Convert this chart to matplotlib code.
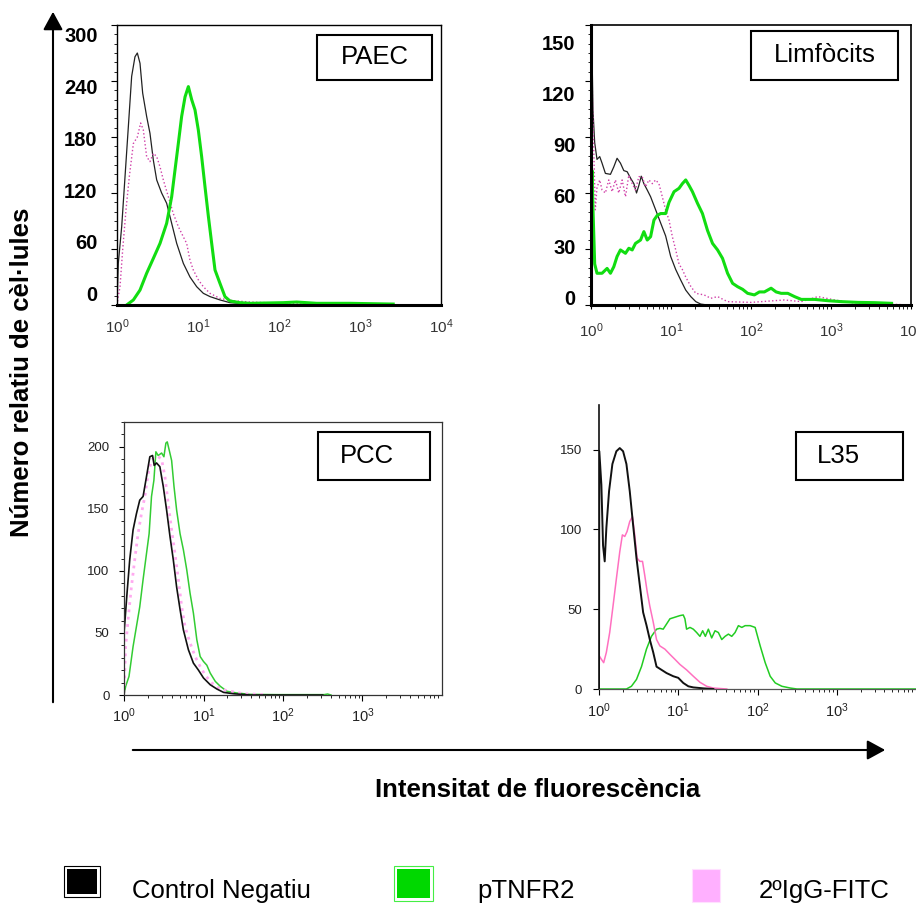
import numpy as np
import matplotlib.pyplot as plt
from matplotlib.patches import Rectangle, FancyArrowPatch
from matplotlib.ticker import MultipleLocator, LogLocator, NullLocator, NullFormatter

plt.rcParams['font.family'] = ['Liberation Sans', 'DejaVu Sans']
plt.rcParams['mathtext.default'] = 'regular'

# ---- histogram data: log10(fluorescence) and cell counts ----
# PAEC
PAEC_CTRL_LOG = [0.0, 0.016, 0.058, 0.099, 0.14, 0.181, 0.222, 0.251, 0.284, 0.317, 0.366, 0.407, 0.449,
                 0.49, 0.551, 0.613, 0.675, 0.737, 0.819, 0.901, 0.984, 1.066, 1.148, 1.272, 1.395,
                 1.64, 2.05, 2.5]
PAEC_CTRL_N = [0, 44.6, 84, 137.5, 191, 245, 266, 270, 259, 227, 202, 184, 155,
               134, 120, 109, 87.5, 66, 44.6, 30, 19.6, 12.5, 9, 5.4, 2.5,
               1, 0.4, 0]
PAEC_IGG_LOG = [0.0, 0.016, 0.037, 0.07, 0.111, 0.152, 0.202, 0.251, 0.292, 0.325, 0.366, 0.407, 0.449,
                0.49, 0.531, 0.572, 0.634, 0.695, 0.757, 0.819, 0.86, 0.901, 0.942, 1.004, 1.066,
                1.148, 1.272, 1.436, 1.642, 2.053, 2.465, 2.877, 3.37]
PAEC_IGG_N = [0, 9, 19.6, 59, 102, 137.5, 173, 180, 195, 187.5, 159, 153.6, 162.5,
              159, 148, 134, 116, 98, 84, 73, 66, 48, 37.5, 27, 19.6,
              12.5, 7, 4.6, 3.2, 1.8, 2.1, 1.8, 1]
PAEC_TNF_LOG = [0.119, 0.202, 0.284, 0.366, 0.449, 0.531, 0.613, 0.675, 0.716, 0.757, 0.798, 0.84, 0.881,
                0.922, 0.963, 1.004, 1.045, 1.086, 1.128, 1.169, 1.21, 1.272, 1.333, 1.395, 1.519,
                1.642, 2.053, 2.218, 2.465, 2.877, 3.41]
PAEC_TNF_N = [0, 5.4, 16, 34, 50, 66, 87.5, 116, 144.6, 173, 202, 223, 234,
              220, 209, 187.5, 159, 127, 95, 66, 37.5, 23, 9, 4.3, 2.5,
              1.8, 2.5, 3.2, 1.8, 1.8, 1]

# Limfòcits
LIMF_CTRL_LOG = [0.0, 0.008, 0.025, 0.046, 0.075, 0.109, 0.138, 0.18, 0.243, 0.285, 0.326, 0.368, 0.41,
                 0.452, 0.494, 0.536, 0.569, 0.598, 0.628, 0.661, 0.703, 0.745, 0.808, 0.87, 0.933,
                 0.996, 1.059, 1.121, 1.184, 1.247, 1.31, 1.372, 1.456]
LIMF_CTRL_N = [0, 147, 104, 87, 78, 79.5, 76, 70.5, 70, 74, 78.6, 76, 72,
               71.4, 68, 65, 60, 64, 69, 65, 61.6, 58, 51, 44, 37,
               26, 19, 13.4, 8, 4.5, 1.8, 0.5, 0]
LIMF_IGG_LOG = [0.0, 0.004, 0.021, 0.054, 0.075, 0.109, 0.138, 0.18, 0.222, 0.264, 0.305, 0.347, 0.389,
                0.431, 0.473, 0.515, 0.556, 0.598, 0.64, 0.682, 0.724, 0.766, 0.808, 0.849, 0.891,
                0.933, 0.975, 1.017, 1.059, 1.1, 1.142, 1.184, 1.247, 1.31, 1.414, 1.498, 1.582,
                1.707, 2.0, 2.418, 2.628, 2.837, 3.046, 3.255, 3.883]
LIMF_IGG_N = [0, 149, 104.5, 51, 63, 67, 61.6, 60, 67, 60.7, 67, 60, 67,
              58, 69.6, 65, 61.6, 68.75, 68.75, 63.4, 67, 65, 67, 65, 58,
              51, 45.5, 36.6, 29.5, 22, 19, 15, 10, 6.25, 5.4, 3.6, 4.5,
              1.8, 1.4, 2.7, 1.8, 4.5, 2.7, 1.25, 0.2]
LIMF_TNF_LOG = [0.0, 0.013, 0.025, 0.046, 0.075, 0.138, 0.201, 0.243, 0.285, 0.326, 0.368, 0.431, 0.473,
                0.515, 0.556, 0.619, 0.661, 0.703, 0.745, 0.787, 0.828, 0.87, 0.933, 0.975, 1.038,
                1.1, 1.142, 1.184, 1.226, 1.268, 1.331, 1.393, 1.456, 1.519, 1.582, 1.644, 1.707,
                1.77, 1.833, 1.895, 1.958, 2.042, 2.105, 2.167, 2.251, 2.314, 2.377, 2.46, 2.544,
                2.628, 2.795, 2.962, 3.13, 3.339, 3.548, 3.757]
LIMF_TNF_N = [0, 72, 51, 22, 17, 17, 19.6, 17, 20.5, 26, 29.5, 27.7, 30.4,
              29.5, 33, 34.8, 39.3, 34.8, 36.6, 45.5, 48, 49, 49, 55, 60.7,
              62.5, 65, 67, 64, 60.7, 54.5, 49, 40, 33, 29.5, 25, 17,
              11.6, 9.8, 8.4, 6.25, 5.4, 7, 7, 9, 7, 6.25, 6.25, 4.5,
              3, 3, 2.3, 1.8, 1.4, 1.25, 0.9]

# PCC
PCC_CTRL_LOG = [0.0, 0.0, 0.013, 0.038, 0.072, 0.114, 0.156, 0.198, 0.24, 0.283, 0.325, 0.359, 0.38,
                0.409, 0.451, 0.494, 0.536, 0.578, 0.62, 0.662, 0.705, 0.747, 0.81, 0.873, 0.937,
                1.0, 1.084, 1.169, 1.253, 1.38, 1.59, 2.5]
PCC_CTRL_N = [0, 50, 60.6, 82, 109, 133, 146, 157, 160, 176, 192, 193, 185,
              187, 184, 168, 149, 128, 109, 87, 69, 52.5, 36.5, 25.7, 20,
              13.7, 8.3, 4.8, 2.1, 1, 0, 0]
PCC_IGG_LOG = [0.0, 0.021, 0.051, 0.093, 0.135, 0.177, 0.219, 0.262, 0.304, 0.346, 0.388, 0.43, 0.473,
               0.515, 0.557, 0.599, 0.641, 0.684, 0.726, 0.768, 0.831, 0.895, 0.958, 1.021, 1.105,
               1.211, 1.338, 1.506, 1.76]
PCC_IGG_N = [1.6, 39, 60.6, 87, 109, 130, 146, 160, 178.5, 189, 192, 192, 190,
             176, 154, 133, 114, 93, 71, 55, 42, 31, 23, 16, 9.7,
             4.8, 3, 1, 0.3]
PCC_TNF_LOG = [0.0, 0.021, 0.063, 0.114, 0.156, 0.198, 0.24, 0.283, 0.316, 0.346, 0.376, 0.401, 0.43,
               0.473, 0.502, 0.527, 0.544, 0.57, 0.599, 0.629, 0.662, 0.705, 0.747, 0.789, 0.831,
               0.873, 0.916, 0.958, 1.0, 1.042, 1.084, 1.148, 1.211, 1.295, 1.422, 1.59, 1.928,
               2.519, 2.561, 2.603]
PCC_TNF_N = [0, 7, 15, 39, 55, 71, 93, 114, 130, 160, 173, 196, 193,
             195, 192, 203, 204, 197, 189, 168, 149, 130, 117, 101, 82,
             66, 44.5, 31, 27, 24, 17.7, 11, 7, 3, 1.6, 0.5, 0.3,
             0.3, 0.8, 0]

# L35
L35_CTRL_LOG = [0.0, 0.004, 0.03, 0.051, 0.072, 0.093, 0.127, 0.169, 0.219, 0.262, 0.304, 0.346, 0.388,
                0.43, 0.473, 0.515, 0.557, 0.599, 0.641, 0.684, 0.726, 0.789, 0.852, 0.937, 1.0,
                1.063, 1.127, 1.19, 1.316, 1.443]
L35_CTRL_N = [0, 149, 128, 90, 80, 101, 124, 141, 149, 151, 149, 141, 124,
              103, 82, 65, 48, 40, 31, 23, 14, 12, 10, 8, 7,
              3.8, 1.7, 1, 0.4, 0]
L35_IGG_LOG = [0.0, 0.004, 0.03, 0.059, 0.093, 0.135, 0.177, 0.219, 0.262, 0.295, 0.325, 0.354, 0.388,
               0.422, 0.451, 0.481, 0.515, 0.549, 0.578, 0.608, 0.641, 0.684, 0.726, 0.768, 0.831,
               0.895, 0.958, 1.021, 1.105, 1.19, 1.274, 1.359, 1.443, 1.612]
L35_IGG_N = [0, 20.7, 18.6, 16.5, 23, 35.4, 52, 69, 86, 96.6, 95.6, 98.7, 105,
             108, 96.6, 82, 80, 80, 71, 61, 52, 42, 31, 27, 25,
             21.7, 18.6, 15.4, 12, 8, 4.2, 1.7, 0.6, 0]
L35_TNF_LOG = [0.0, 0.346, 0.409, 0.473, 0.536, 0.599, 0.662, 0.726, 0.768, 0.81, 0.852, 0.895, 0.958,
               1.021, 1.063, 1.084, 1.105, 1.148, 1.19, 1.232, 1.274, 1.308, 1.342, 1.38, 1.422,
               1.464, 1.506, 1.549, 1.591, 1.633, 1.675, 1.717, 1.759, 1.802, 1.844, 1.907, 1.97,
               2.034, 2.097, 2.16, 2.224, 2.308, 2.414, 2.498, 4.0]
L35_TNF_N = [0, 0, 1.7, 6, 14, 25, 33, 37.5, 38, 37.5, 40.7, 44, 45,
             46, 46.4, 44, 37.5, 38.6, 37.5, 35.4, 33, 36.5, 33, 37.5, 32,
             36.5, 35.4, 31, 33, 34.4, 33, 35.4, 39.7, 38.6, 39.7, 39.7, 38.6,
             27, 16.5, 8, 3.8, 1.7, 0.6, 0, 0]

SERIES_NAMES = ['Control Negatiu', 'pTNFR2', '2ºIgG-FITC']
LEGEND_COLORS = ['#000000', '#00d800', '#ffb0ff']

W, H = 916, 906
fig = plt.figure(figsize=(W / 100, H / 100), dpi=100)


def px_axes(l, t, r, b):
    return fig.add_axes([l / W, 1 - b / H, (r - l) / W, (b - t) / H])


def fxy(x, y):
    return (x / W, 1 - y / H)


def hist(ax, log_i, counts, **kw):
    ax.plot(10 ** np.asarray(log_i), counts, **kw)


def decade_labels(n):
    return [r'$10^{%d}$' % k for k in range(n)]


def bold_counts(ax, values, lo, hi, pad):
    # count labels sit on their own scale, offset from the tick marks
    lab = ax.twinx()
    lab.set_ylim(lo, hi)
    lab.yaxis.tick_left()
    lab.set_yticks(values, labels=[str(v) for v in values], fontweight='bold', fontsize=14.5)
    lab.yaxis.set_minor_locator(NullLocator())
    lab.tick_params(axis='y', length=0, pad=pad)
    for s in lab.spines.values():
        s.set_visible(False)


def name_box(l, t, r, b, text, tx=None):
    fig.add_artist(Rectangle(fxy(l, b), (r - l) / W, (b - t) / H, transform=fig.transFigure,
                             fill=False, lw=1.5, ec='black'))
    cx = (l + r) / 2 if tx is None else tx
    fig.text(*fxy(cx, (t + b) / 2), text, fontsize=18.5, ha='center', va='center')


# ---- PAEC ----
ax1 = px_axes(117, 25, 441, 305)
bold_counts(ax1, [0, 60, 120, 180, 240, 300], -12.8, 310.6, 14)
ax1.set_xscale('log')
ax1.set_xlim(1, 1e4)
ax1.set_ylim(0, 300)
hist(ax1, PAEC_CTRL_LOG, PAEC_CTRL_N, color='#222222', lw=0.9)
hist(ax1, PAEC_IGG_LOG, PAEC_IGG_N, color='#d040a8', lw=1.0, ls=':')
hist(ax1, PAEC_TNF_LOG, PAEC_TNF_N, color='#11dd11', lw=2.2)
ax1.yaxis.set_major_locator(MultipleLocator(60))
ax1.yaxis.set_minor_locator(MultipleLocator(10))
ax1.tick_params(axis='y', which='major', direction='out', length=4, labelleft=False)
ax1.tick_params(axis='y', which='minor', direction='out', length=2)
ax1.set_xticks([1, 10, 100, 1000, 10000], labels=decade_labels(5))
ax1.xaxis.set_minor_locator(NullLocator())
ax1.tick_params(axis='x', length=0, pad=9, labelsize=11, labelcolor='#333333')
for s in ax1.spines.values():
    s.set_linewidth(1.0)
ax1.spines['bottom'].set_linewidth(2.2)

# ---- Limfòcits ----
ax2 = px_axes(591, 25, 911, 305)
bold_counts(ax2, [0, 30, 60, 90, 120, 150], -4.4, 160, 11)
ax2.set_xscale('log')
ax2.set_xlim(1, 1e4)
ax2.set_ylim(0, 150)
hist(ax2, LIMF_CTRL_LOG, LIMF_CTRL_N, color='#222222', lw=0.9)
hist(ax2, LIMF_IGG_LOG, LIMF_IGG_N, color='#d040a8', lw=1.0, ls=':')
hist(ax2, LIMF_TNF_LOG, LIMF_TNF_N, color='#11dd11', lw=2.2)
ax2.yaxis.set_major_locator(MultipleLocator(30))
ax2.yaxis.set_minor_locator(MultipleLocator(5))
ax2.tick_params(axis='y', which='major', direction='out', length=4, labelleft=False)
ax2.tick_params(axis='y', which='minor', direction='out', length=2)
ax2.set_xticks([1, 10, 100, 1000, 10000], labels=decade_labels(5))
ax2.xaxis.set_minor_locator(LogLocator(subs=np.arange(2, 10)))
ax2.xaxis.set_minor_formatter(NullFormatter())
ax2.tick_params(axis='x', which='both', direction='out', length=3, pad=9, labelsize=11,
                labelcolor='#333333')
for s in ax2.spines.values():
    s.set_linewidth(1.2)
ax2.spines['bottom'].set_linewidth(2.2)
ax2.spines['left'].set_linewidth(2.2)

# ---- PCC ----
ax3 = px_axes(124, 422, 442, 695)
ax3.set_xscale('log')
ax3.set_xlim(1, 1e4)
ax3.set_ylim(0, 220)
hist(ax3, PCC_TNF_LOG, PCC_TNF_N, color='#33cc33', lw=1.1)
hist(ax3, PCC_IGG_LOG, PCC_IGG_N, color='#ffaaf0', lw=2.0, ls=':')
hist(ax3, PCC_CTRL_LOG, PCC_CTRL_N, color='#111111', lw=1.2)
ax3.yaxis.set_major_locator(MultipleLocator(50))
ax3.yaxis.set_minor_locator(MultipleLocator(10))
ax3.tick_params(axis='y', which='major', direction='out', length=3.5, pad=7, labelsize=9.5,
                labelcolor='#222222')
ax3.tick_params(axis='y', which='minor', direction='out', length=2)
ax3.set_xticks([1, 10, 100, 1000], labels=decade_labels(4))
ax3.xaxis.set_minor_locator(LogLocator(subs=np.arange(2, 10)))
ax3.xaxis.set_minor_formatter(NullFormatter())
ax3.tick_params(axis='x', which='major', direction='out', length=4, pad=4.5, labelsize=10.5,
                labelcolor='#222222')
ax3.tick_params(axis='x', which='minor', direction='out', length=2.5)
for s in ax3.spines.values():
    s.set_linewidth(0.9)
    s.set_color('#333333')

# ---- L35 ----
ax4 = px_axes(599, 405, 916, 689)
ax4.set_xscale('log')
ax4.set_xlim(1, 1e4)
ax4.set_ylim(0, 178)
hist(ax4, L35_TNF_LOG, L35_TNF_N, color='#22cc22', lw=1.1)
hist(ax4, L35_IGG_LOG, L35_IGG_N, color='#ff70c0', lw=1.1)
hist(ax4, L35_CTRL_LOG, L35_CTRL_N, color='#111111', lw=1.4)
ax4.yaxis.set_major_locator(MultipleLocator(50))
ax4.tick_params(axis='y', which='major', direction='out', length=4, pad=8, labelsize=9.5,
                labelcolor='#222222')
ax4.set_xticks([1, 10, 100, 1000], labels=decade_labels(4))
ax4.xaxis.set_minor_locator(LogLocator(subs=np.arange(2, 10)))
ax4.xaxis.set_minor_formatter(NullFormatter())
ax4.tick_params(axis='x', which='major', direction='out', length=4, pad=5, labelsize=10.5,
                labelcolor='#222222')
ax4.tick_params(axis='x', which='minor', direction='out', length=2.5)
ax4.spines['top'].set_visible(False)
ax4.spines['right'].set_visible(False)
ax4.spines['left'].set_linewidth(1.2)
ax4.spines['left'].set_color('#111111')
ax4.spines['bottom'].set_linewidth(0.9)
ax4.spines['bottom'].set_color('#555555')

# ---- panel names ----
name_box(317, 35, 432, 80, 'PAEC')
name_box(751, 31, 898, 80, 'Limfòcits')
name_box(318, 432, 430, 480, 'PCC', tx=367)
name_box(796, 432, 903, 480, 'L35', tx=838)

# ---- shared axis arrows and titles ----
head = '-|>,head_length=0.55,head_width=0.3'
fig.add_artist(FancyArrowPatch(fxy(53, 705), fxy(53, 9), transform=fig.transFigure,
                               arrowstyle=head, mutation_scale=20, lw=1.5, color='black'))
fig.add_artist(FancyArrowPatch(fxy(130, 750), fxy(888, 750), transform=fig.transFigure,
                               arrowstyle=head, mutation_scale=20, lw=1.5, color='black'))
fig.text(*fxy(22, 372), 'Número relatiu de cèl·lules', rotation=90, fontsize=18.5,
         fontweight='bold', ha='center', va='center')
fig.text(*fxy(538, 790), 'Intensitat de fluorescència', fontsize=18.5, fontweight='bold',
         ha='center', va='center')

# ---- legend ----
fig.add_artist(Rectangle(fxy(64, 897), 36 / W, 31 / H, transform=fig.transFigure,
                         fill=False, lw=0.8, ec='black'))
fig.add_artist(Rectangle(fxy(67, 894), 30 / W, 25 / H, transform=fig.transFigure,
                         fc=LEGEND_COLORS[0], ec='none'))
fig.add_artist(Rectangle(fxy(394, 901), 39 / W, 35 / H, transform=fig.transFigure,
                         fill=False, lw=0.8, ec='#44ee44'))
fig.add_artist(Rectangle(fxy(397, 898), 33 / W, 29 / H, transform=fig.transFigure,
                         fc=LEGEND_COLORS[1], ec='none'))
fig.add_artist(Rectangle(fxy(692, 902), 28 / W, 33 / H, transform=fig.transFigure,
                         fc=LEGEND_COLORS[2], ec='#ffe0ff', lw=0.8))
for x, name in zip([132, 477, 759], SERIES_NAMES):
    fig.text(*fxy(x, 898), name, fontsize=18.5, ha='left', va='baseline')

fig.savefig('out.png', dpi=100)
